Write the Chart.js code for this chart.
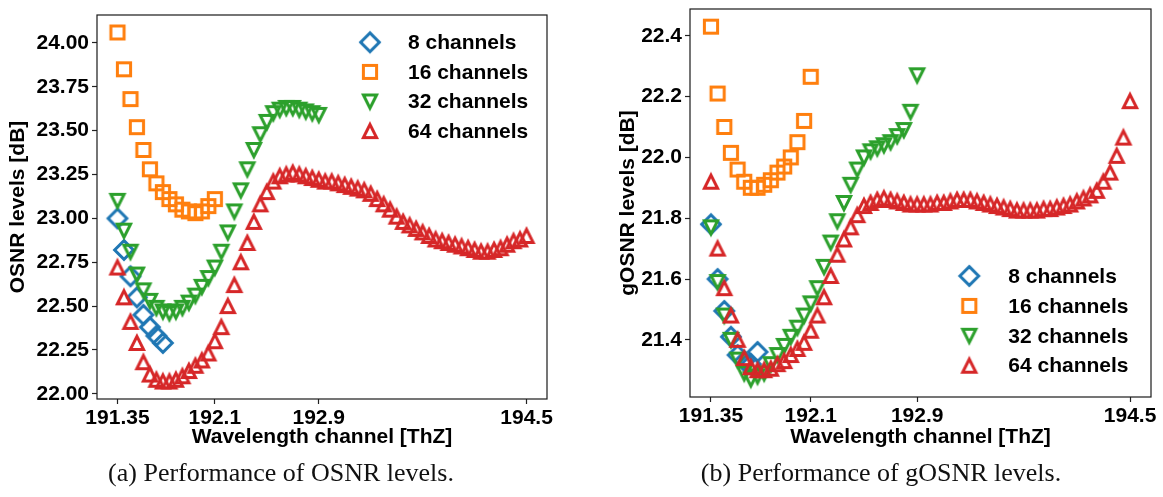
<!DOCTYPE html>
<html>
<head>
<meta charset="utf-8">
<script src="https://cdn.jsdelivr.net/npm/chart.js@4.4.1/dist/chart.umd.min.js"></script>
<style>
  html, body { margin: 0; padding: 0; background: #ffffff; }
  body { width: 1163px; height: 497px; position: relative; overflow: hidden; }
  .panel { position: absolute; top: 0; }
  #panelA { left: 0; width: 575px; height: 460px; }
  #panelB { left: 581px; width: 582px; height: 460px; }
  .caption {
    position: absolute; top: 460px; line-height: 1;
    font-family: "Liberation Serif", "Times New Roman", serif; font-size: 26px;
    color: #111; white-space: nowrap; transform: translateX(-50%);
  }
</style>
</head>
<body>
<div id="panelA" class="panel"><canvas id="osnrChart" width="575" height="460"></canvas></div>
<div id="panelB" class="panel"><canvas id="gosnrChart" width="582" height="460"></canvas></div>
<div class="caption" style="left:281px">(a) Performance of OSNR levels.</div>
<div class="caption" style="left:881px">(b) Performance of gOSNR levels.</div>

<script>
// Channel grid (THz), 50 GHz spacing
const channelFreqs = [
  191.35, 191.40, 191.45, 191.50, 191.55, 191.60, 191.65, 191.70,
  191.75, 191.80, 191.85, 191.90, 191.95, 192.00, 192.05, 192.10,
  192.15, 192.20, 192.25, 192.30, 192.35, 192.40, 192.45, 192.50,
  192.55, 192.60, 192.65, 192.70, 192.75, 192.80, 192.85, 192.90,
  192.95, 193.00, 193.05, 193.10, 193.15, 193.20, 193.25, 193.30,
  193.35, 193.40, 193.45, 193.50, 193.55, 193.60, 193.65, 193.70,
  193.75, 193.80, 193.85, 193.90, 193.95, 194.00, 194.05, 194.10,
  194.15, 194.20, 194.25, 194.30, 194.35, 194.40, 194.45, 194.50
];

const seriesLabels = ['8 channels', '16 channels', '32 channels', '64 channels'];
const seriesColors = ['#1f77b4', '#ff7f0e', '#2ca02c', '#d62728'];
const seriesShapes = ['diamond', 'square', 'down', 'up'];

// OSNR [dB]
const osnr8 = [23.00, 22.82, 22.67, 22.55, 22.45, 22.38, 22.33, 22.29];
const osnr16 = [24.06, 23.85, 23.68, 23.52, 23.39, 23.28, 23.20, 23.15,
                23.11, 23.08, 23.05, 23.04, 23.03, 23.04, 23.07, 23.11];
const osnr32 = [23.10, 22.93, 22.81, 22.68, 22.59, 22.53, 22.49, 22.47,
                22.46, 22.47, 22.49, 22.52, 22.56, 22.61, 22.66, 22.72,
                22.81, 22.92, 23.04, 23.16, 23.28, 23.39, 23.48, 23.55,
                23.60, 23.62, 23.63, 23.63, 23.62, 23.61, 23.60, 23.59];
const osnr64 = [22.72, 22.55, 22.41, 22.29, 22.18, 22.11, 22.08, 22.07,
                22.07, 22.08, 22.10, 22.13, 22.16, 22.19, 22.23, 22.30,
                22.38, 22.50, 22.62, 22.75, 22.86, 22.98, 23.08, 23.15,
                23.21, 23.24, 23.25, 23.26, 23.25, 23.24, 23.23, 23.22,
                23.21, 23.21, 23.20, 23.19, 23.18, 23.17, 23.16, 23.14,
                23.11, 23.08, 23.05, 23.01, 22.98, 22.96, 22.94, 22.92,
                22.90, 22.88, 22.87, 22.86, 22.85, 22.84, 22.83, 22.82,
                22.81, 22.81, 22.82, 22.83, 22.85, 22.87, 22.88, 22.90];

// gOSNR [dB]
const gosnr8 = [21.78, 21.60, 21.495, 21.41, 21.35, 21.33, 21.32, 21.36];
const gosnr16 = [22.43, 22.21, 22.10, 22.015, 21.96, 21.92, 21.90, 21.90,
                 21.91, 21.925, 21.95, 21.97, 22.00, 22.05, 22.12, 22.265];
const gosnr32 = [21.77, 21.59, 21.48, 21.40, 21.335, 21.29, 21.27, 21.28,
                 21.29, 21.32, 21.35, 21.38, 21.41, 21.44, 21.48, 21.52,
                 21.57, 21.64, 21.72, 21.79, 21.85, 21.91, 21.96, 22.00,
                 22.02, 22.03, 22.04, 22.05, 22.07, 22.09, 22.15, 22.27];
const gosnr64 = [21.92, 21.70, 21.57, 21.48, 21.40, 21.34, 21.31, 21.30,
                 21.30, 21.305, 21.32, 21.33, 21.35, 21.37, 21.39, 21.43,
                 21.48, 21.54, 21.61, 21.68, 21.73, 21.77, 21.81, 21.84,
                 21.85, 21.86, 21.865, 21.86, 21.855, 21.85, 21.845, 21.845,
                 21.845, 21.845, 21.85, 21.85, 21.855, 21.86, 21.86, 21.86,
                 21.855, 21.85, 21.845, 21.84, 21.835, 21.83, 21.825, 21.825,
                 21.825, 21.825, 21.83, 21.83, 21.835, 21.84, 21.845, 21.855,
                 21.865, 21.875, 21.89, 21.92, 21.95, 22.005, 22.065, 22.185];

// Tick values and labels
const freqTicks = [191.35, 192.1, 192.9, 194.5];
const freqTickLabels = ['191.35', '192.1', '192.9', '194.5'];
const osnrTicks = [22.00, 22.25, 22.50, 22.75, 23.00, 23.25, 23.50, 23.75, 24.00];
const osnrTickLabels = ['22.00', '22.25', '22.50', '22.75', '23.00', '23.25', '23.50', '23.75', '24.00'];
const gosnrTicks = [21.4, 21.6, 21.8, 22.0, 22.2, 22.4];
const gosnrTickLabels = ['21.4', '21.6', '21.8', '22.0', '22.2', '22.4'];

Chart.defaults.font.family = '"Liberation Sans", Arial, sans-serif';
Chart.defaults.color = '#000';

// Hollow marker sprites
function makeMarker(shape, color) {
  const s = 32, c = s / 2, h = 6.6;
  const cv = document.createElement('canvas');
  cv.width = s; cv.height = s;
  const g = cv.getContext('2d');
  g.strokeStyle = color;
  g.lineWidth = 3;
  g.lineJoin = 'miter';
  g.beginPath();
  if (shape === 'square') {
    g.rect(c - h, c - h, 2 * h, 2 * h);
  } else if (shape === 'diamond') {
    const d = h * Math.SQRT2;
    g.moveTo(c, c - d); g.lineTo(c + d, c); g.lineTo(c, c + d); g.lineTo(c - d, c); g.closePath();
  } else if (shape === 'down') {
    g.moveTo(c - h, c - h); g.lineTo(c + h, c - h); g.lineTo(c, c + h); g.closePath();
  } else {
    g.moveTo(c, c - h); g.lineTo(c + h, c + h); g.lineTo(c - h, c + h); g.closePath();
  }
  g.stroke();
  return cv;
}
const markers = seriesShapes.map((sh, i) => makeMarker(sh, seriesColors[i]));

function padRange(arrays) {
  const all = [].concat(...arrays);
  const lo = Math.min(...all), hi = Math.max(...all);
  const m = (hi - lo) * 0.05;
  return [lo - m, hi + m];
}

function buildDatasets(seriesList) {
  return seriesList.map((vals, k) => ({
    label: seriesLabels[k],
    data: vals.map((v, i) => ({ x: channelFreqs[i], y: v })),
    pointStyle: markers[k],
    pointRadius: 8,
    showLine: false,
    order: seriesList.length - k
  }));
}

// Axes frame plus the in-plot marker key
const framePlugin = {
  id: 'frameAndKey',
  afterDraw(chart, args, opts) {
    const { ctx, chartArea: a } = chart;
    ctx.save();
    ctx.strokeStyle = '#1a1a1a';
    ctx.lineWidth = 1.2;
    ctx.strokeRect(a.left, a.top, a.right - a.left, a.bottom - a.top);
    ctx.font = 'bold 21px "Liberation Sans", Arial, sans-serif';
    ctx.fillStyle = '#000';
    ctx.textBaseline = 'middle';
    ctx.textAlign = 'left';
    chart.data.datasets.forEach((ds, k) => {
      const y = opts.y + k * opts.dy;
      const img = ds.pointStyle;
      ctx.drawImage(img, opts.x - img.width / 2, y - img.height / 2);
      ctx.fillText(ds.label, opts.x + opts.textDx, y + 1);
    });
    ctx.restore();
  }
};

function makeChart(canvasId, seriesList, yTicks, yLabels, yTitle, geom) {
  const [xMin, xMax] = padRange([channelFreqs]);
  const [yMin, yMax] = padRange(seriesList);
  const tickFont = { size: 21, weight: 'bold' };
  const titleFont = { size: 21, weight: 'bold' };
  const grid = { drawOnChartArea: false, drawTicks: true, tickLength: 5, tickColor: '#222', tickWidth: 1.2 };
  return new Chart(document.getElementById(canvasId), {
    type: 'scatter',
    data: { datasets: buildDatasets(seriesList) },
    options: {
      responsive: false,
      animation: false,
      devicePixelRatio: 1,
      layout: { padding: geom.padding },
      plugins: {
        legend: { display: false },
        tooltip: { enabled: false },
        frameAndKey: geom.key
      },
      scales: {
        x: {
          type: 'linear', min: xMin, max: xMax,
          afterBuildTicks: s => { s.ticks = freqTicks.map(v => ({ value: v })); },
          afterFit: s => { s.height = geom.xHeight; s.paddingLeft = 0; s.paddingRight = 0; },
          ticks: { callback: (v, i) => freqTickLabels[i], font: tickFont, color: '#000', padding: 2, maxRotation: 0, autoSkip: false },
          grid: grid,
          border: { display: false },
          title: { display: true, text: 'Wavelength channel [ThZ]', font: titleFont, color: '#000', padding: { top: 0, bottom: 10.5 } }
        },
        y: {
          type: 'linear', min: yMin, max: yMax,
          afterBuildTicks: s => { s.ticks = yTicks.map(v => ({ value: v })); },
          afterFit: s => { s.width = geom.yWidth; s.paddingTop = 0; s.paddingBottom = 0; },
          ticks: { callback: (v, i) => yLabels[i], font: tickFont, color: '#000', padding: 3, autoSkip: false },
          grid: grid,
          border: { display: false },
          title: { display: true, text: yTitle, font: titleFont, color: '#000', padding: { top: geom.yTitlePad, bottom: 0 } }
        }
      }
    },
    plugins: [framePlugin]
  });
}

makeChart('osnrChart', [osnr8, osnr16, osnr32, osnr64], osnrTicks, osnrTickLabels, 'OSNR levels [dB]', {
  padding: { left: 0, top: 15, right: 28, bottom: 0 },
  xHeight: 61, yWidth: 97, yTitlePad: 5.5,
  key: { x: 370, y: 42.3, dy: 29.6, textDx: 38 }
});

makeChart('gosnrChart', [gosnr8, gosnr16, gosnr32, gosnr64], gosnrTicks, gosnrTickLabels, 'gOSNR levels [dB]', {
  padding: { left: 0, top: 5, right: 12, bottom: 0 },
  xHeight: 63, yWidth: 109, yTitlePad: 34.5,
  key: { x: 388.3, y: 276, dy: 29.9, textDx: 39 }
});
</script>
</body>
</html>
